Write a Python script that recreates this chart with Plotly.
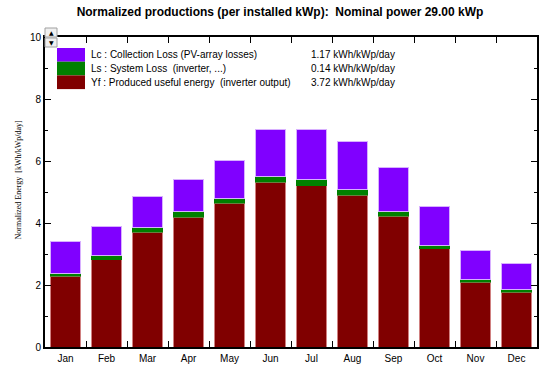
import plotly.graph_objects as go

months = ["Jan", "Feb", "Mar", "Apr", "May", "Jun", "Jul", "Aug", "Sep", "Oct", "Nov", "Dec"]
yf = [2.29, 2.82, 3.70, 4.19, 4.63, 5.32, 5.20, 4.90, 4.22, 3.17, 2.09, 1.77]
ls = [0.09, 0.12, 0.14, 0.18, 0.17, 0.19, 0.20, 0.17, 0.15, 0.10, 0.09, 0.08]
lc = [1.01, 0.96, 1.00, 1.03, 1.23, 1.52, 1.61, 1.55, 1.41, 1.25, 0.93, 0.85]

legend_names = ["Lc : Collection Loss (PV-array losses)",
                "Ls : System Loss  (inverter, ...)",
                "Yf : Produced useful energy  (inverter output)"]
legend_values = ["1.17 kWh/kWp/day", "0.14 kWh/kWp/day", "3.72 kWh/kWp/day"]
legend_colors = ["#8000FF", "#008000", "#800000"]

title_text = "Normalized productions (per installed kWp):  Nominal power 29.00 kWp"
y_title = "Normalized Energy  [kWh/kWp/day]"

fig = go.Figure()
fig.add_trace(go.Bar(x=months, y=yf, name="Yf", marker=dict(color="#800000", line=dict(color="#d08080", width=1))))
fig.add_trace(go.Bar(x=months, y=ls, name="Ls", marker=dict(color="#008000", line=dict(color="#008000", width=0.5))))
fig.add_trace(go.Bar(x=months, y=lc, name="Lc", marker=dict(color="#8000FF", line=dict(color="#d8b0ff", width=1))))

L, R, T, B = 45, 12, 37, 23
W, H = 549, 370
pw, ph = W - L - R, H - T - B

def px_x(x):
    return (x - L) / pw

def px_y(y):
    return (H - B - y) / ph

shapes = []
annotations = []
# legend swatches
sw_x0, sw_x1 = 57, 85
row_h = 13.7
top0 = 48
for i, (nm, val, col) in enumerate(zip(legend_names, legend_values, legend_colors)):
    y0 = top0 + i * row_h
    y1 = y0 + row_h
    shapes.append(dict(type="rect", xref="paper", yref="paper",
                       x0=px_x(sw_x0), x1=px_x(sw_x1), y0=px_y(y1), y1=px_y(y0),
                       fillcolor=col, line=dict(width=0)))
    yc = (y0 + y1) / 2
    annotations.append(dict(xref="paper", yref="paper", x=px_x(89), y=px_y(yc),
                            text=nm, showarrow=False, xanchor="left", yanchor="middle",
                            font=dict(family="Liberation Sans, Arial", size=10, color="#000")))
    annotations.append(dict(xref="paper", yref="paper", x=px_x(309), y=px_y(yc),
                            text=val, showarrow=False, xanchor="left", yanchor="middle",
                            font=dict(family="Liberation Sans, Arial", size=10, color="#000")))

# small scroll buttons at top-left
for (y0, y1, sym) in [(28, 37, "▲"), (38, 47, "▼")]:
    shapes.append(dict(type="rect", xref="paper", yref="paper",
                       x0=px_x(45), x1=px_x(57), y0=px_y(y1), y1=px_y(y0),
                       fillcolor="#f0f0f0", line=dict(color="#a0a0a0", width=1)))
    annotations.append(dict(xref="paper", yref="paper", x=px_x(51), y=px_y((y0 + y1) / 2),
                            text=sym, showarrow=False, xanchor="center", yanchor="middle",
                            font=dict(family="DejaVu Sans", size=6, color="#000")))

annotations.append(dict(xref="paper", yref="paper", x=px_x(17.5), y=px_y(180),
                        text=y_title, showarrow=False, textangle=-90,
                        xanchor="center", yanchor="middle",
                        font=dict(family="Liberation Serif, Times New Roman", size=8, color="#000")))

fig.update_layout(
    width=W, height=H,
    margin=dict(l=L, r=R, t=T, b=B, autoexpand=False),
    barmode="stack", bargap=0.26,
    plot_bgcolor="white", paper_bgcolor="white",
    showlegend=False,
    title=dict(text="<b>" + title_text + "</b>", x=280 / W, xanchor="center", y=1 - 12 / H, yanchor="middle",
               font=dict(family="Liberation Sans, Arial", size=12, color="#000")),
    shapes=shapes, annotations=annotations,
    font=dict(family="Liberation Sans, Arial", size=10, color="#000"),
)
fig.update_xaxes(type="category", tickson="boundaries", ticks="inside", ticklen=6, tickwidth=1,
                 tickcolor="#000", showline=True, linecolor="#000", linewidth=2, mirror="ticks",
                 showgrid=False, tickfont=dict(size=10), ticklabelstandoff=1, automargin=False)
fig.update_yaxes(range=[0, 10], dtick=2, ticks="inside", ticklen=6, tickwidth=1, tickcolor="#000",
                 showline=True, linecolor="#000", linewidth=2, mirror="ticks", showgrid=False, zeroline=False,
                 minor=dict(dtick=1, ticks="inside", ticklen=3, tickcolor="#000"),
                 tickfont=dict(size=10), automargin=False)

fig.write_html("out.html", config={"displayModeBar": False},
               post_script="document.body.style.margin='0';")
